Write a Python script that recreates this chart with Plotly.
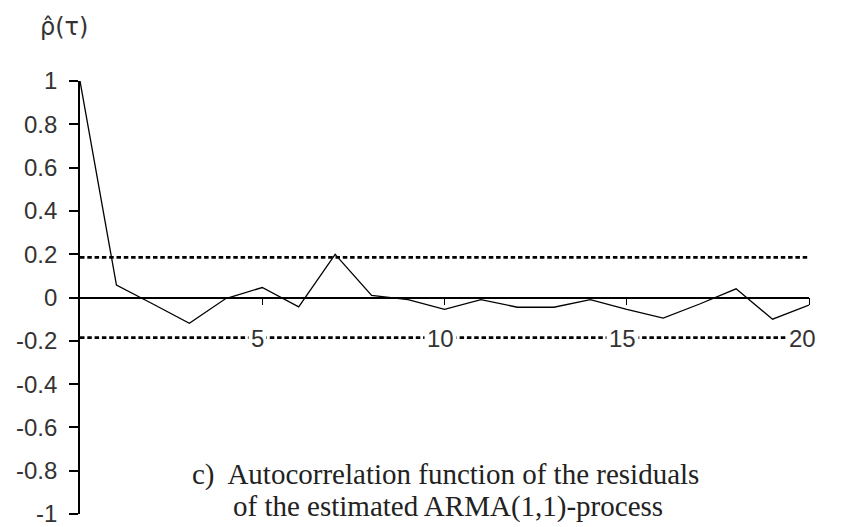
import plotly.graph_objects as go

lags = list(range(0, 21))
acf = [1.0, 0.057, -0.03, -0.119, -0.005, 0.046, -0.043, 0.199, 0.01, -0.01,
       -0.055, -0.01, -0.045, -0.045, -0.01, -0.055, -0.095, -0.03, 0.04, -0.1, -0.035]
conf_bound = 0.185
x_tick_vals = [5, 10, 15, 20]
x_tick_text = ["5", "10", "15", "20"]
x_label_shift = [-5, -4, -4, -7]
y_tick_vals = [1, 0.8, 0.6, 0.4, 0.2, 0, -0.2, -0.4, -0.6, -0.8, -1]
y_tick_text = ["1", "0.8", "0.6", "0.4", "0.2", "0", "-0.2", "-0.4", "-0.6", "-0.8", "-1"]
y_title = "\u03c1\u0302(\u03c4)"
caption = ["c)  Autocorrelation function of the residuals",
           "of the estimated ARMA(1,1)-process"]

sans = "Liberation Sans, Arial, sans-serif"
serif = "Liberation Serif, Times New Roman, serif"

fig = go.Figure()

# confidence bounds
for b in (conf_bound, -conf_bound):
    fig.add_trace(go.Scatter(x=[0, 20], y=[b, b], mode="lines",
                             line=dict(color="black", width=2.8, dash="4.5px,2.8px"),
                             hoverinfo="skip", showlegend=False))
# ACF
fig.add_trace(go.Scatter(x=lags, y=acf, mode="lines",
                         line=dict(color="black", width=1.3),
                         showlegend=False))

# x tick labels sitting on the lower bound line
for v, t, s in zip(x_tick_vals, x_tick_text, x_label_shift):
    fig.add_annotation(x=v, y=-conf_bound, text=t, showarrow=False,
                       xref="x", yref="y", xshift=s, yshift=-1,
                       bgcolor="white", borderpad=2,
                       font=dict(family=sans, size=24, color="#333"))

fig.add_annotation(x=-0.022, y=1.125, xref="paper", yref="paper", text=y_title,
                   showarrow=False, xanchor="center", yanchor="middle",
                   font=dict(family="DejaVu Sans, Liberation Sans", size=24, color="#333"))

fig.add_annotation(x=0.151, y=0.0901, xref="paper", yref="paper", text=caption[0],
                   showarrow=False, xanchor="left", yanchor="middle",
                   font=dict(family=serif, size=29, color="#222"))
fig.add_annotation(x=0.207, y=0.0162, xref="paper", yref="paper", text=caption[1],
                   showarrow=False, xanchor="left", yanchor="middle",
                   font=dict(family=serif, size=29, color="#222"))

fig.update_layout(
    width=844, height=527,
    margin=dict(l=72, r=43, t=73, b=21),
    paper_bgcolor="white", plot_bgcolor="white",
    xaxis=dict(range=[0, 20], showgrid=False, zeroline=False, automargin=False,
               showline=True, linecolor="black", linewidth=1.5,
               anchor="free", position=0.5,
               ticks="outside", ticklen=7, tickcolor="black", tickwidth=1.2,
               tickvals=x_tick_vals, showticklabels=False),
    yaxis=dict(range=[-1, 1], showgrid=False, zeroline=False, automargin=False,
               showline=True, linecolor="black", linewidth=1.8,
               ticks="outside", ticklen=9, tickcolor="black", tickwidth=1.5,
               tickvals=y_tick_vals, ticktext=y_tick_text,
               ticklabelstandoff=7, ticklabeloverflow="allow",
               tickfont=dict(family=sans, size=24, color="#333")),
)

fig.write_html("out.html")
